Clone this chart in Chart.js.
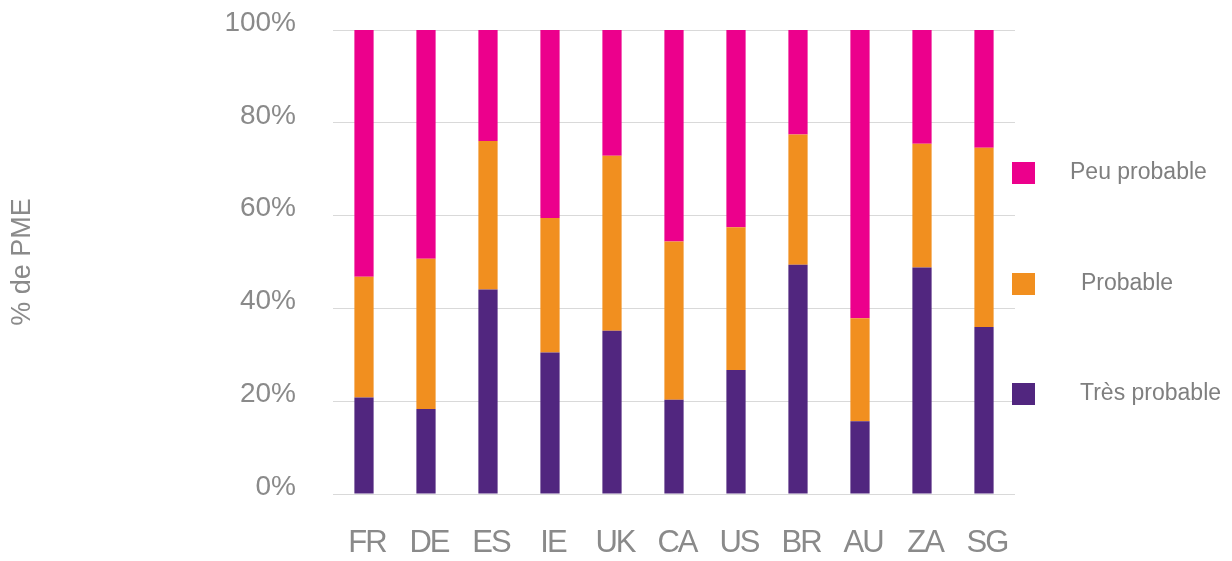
<!DOCTYPE html>
<html>
<head>
<meta charset="utf-8">
<script src="https://cdn.jsdelivr.net/npm/chart.js@4/dist/chart.umd.min.js"></script>
<style>
  html, body { margin: 0; padding: 0; background: #fff; }
  #wrap { width: 1232px; height: 561px; position: relative; }
</style>
</head>
<body>
<div id="wrap"><canvas id="chart"></canvas></div>
<script>
// countries on the x axis
const countries = ["FR", "DE", "ES", "IE", "UK", "CA", "US", "BR", "AU", "ZA", "SG"];

// % of SMEs per answer (stacked, bottom to top)
const tresProbable = [20.8, 18.3, 44.1, 30.5, 35.2, 20.3, 26.7, 49.4, 15.7, 48.8, 36.0];
const probable = [26.0, 32.4, 32.0, 29.0, 37.7, 34.1, 30.8, 28.1, 22.2, 26.7, 38.6];
const peuProbable = [53.2, 49.3, 23.9, 40.5, 27.1, 45.6, 42.5, 22.5, 62.1, 24.5, 25.4];

const yTicks = [0, 20, 40, 60, 80, 100];

const grey = "#8a8a8a";
const fontName = "'Liberation Sans', Arial, sans-serif";

// legend on the right, one item per row, top item = last dataset
const sideLegend = {
  id: "sideLegend",
  beforeDraw(chart) {
    // the country labels are set very tight in the original
    const xs = chart.scales.x;
    if (!xs._tight) {
      const orig = xs.drawLabels.bind(xs);
      xs.drawLabels = function (area) {
        const ctx = this.ctx;
        ctx.save();
        ctx.letterSpacing = "-2px";
        orig(area);
        ctx.restore();
      };
      xs._tight = true;
    }
  },
  afterDraw(chart) {
    const ctx = chart.ctx;
    const rows = [173, 284, 394];
    const textX = [1070, 1081, 1080];
    const sets = chart.data.datasets.slice().reverse();
    ctx.save();
    ctx.font = "23px " + fontName;
    ctx.textBaseline = "middle";
    sets.forEach((ds, i) => {
      ctx.fillStyle = ds.backgroundColor;
      ctx.fillRect(1012, rows[i] - 11, 23, 22);
      ctx.fillStyle = "#7f7f7f";
      ctx.fillText(ds.label, textX[i], rows[i]);
    });
    ctx.restore();
  }
};

new Chart(document.getElementById("chart"), {
  type: "bar",
  data: {
    labels: countries,
    datasets: [
      { label: "Très probable", data: tresProbable, backgroundColor: "#51267f" },
      { label: "Probable", data: probable, backgroundColor: "#f18f1f" },
      { label: "Peu probable", data: peuProbable, backgroundColor: "#ec008c" }
    ]
  },
  options: {
    responsive: true,
    maintainAspectRatio: false,
    animation: false,
    barPercentage: 0.31,
    categoryPercentage: 1,
    layout: { padding: { top: 30, right: 217, left: 0, bottom: 0 } },
    plugins: {
      legend: { display: false },
      tooltip: { enabled: false }
    },
    scales: {
      x: {
        stacked: true,
        grid: { display: false, drawTicks: false },
        border: { display: false },
        ticks: {
          color: grey,
          padding: 31,
          labelOffset: 3,
          font: { family: fontName, size: 31 }
        },
        afterFit(scale) { scale.height = 67; }
      },
      y: {
        stacked: true,
        min: 0,
        max: 100,
        afterBuildTicks(scale) { scale.ticks = yTicks.map(v => ({ value: v })); },
        grid: { color: "#d9d9d9", lineWidth: 1, drawTicks: false },
        border: { display: false },
        ticks: {
          color: grey,
          padding: 37,
          labelOffset: -7,
          font: { family: fontName, size: 28 },
          callback: v => v + "%"
        },
        title: {
          display: true,
          text: "% de PME",
          color: grey,
          padding: { top: 6 },
          font: { family: fontName, size: 27 }
        },
        afterFit(scale) {
          scale.width = 333;
          scale.paddingTop = 0;
          scale.paddingBottom = 0;
        }
      }
    }
  },
  plugins: [sideLegend]
});
</script>
</body>
</html>
